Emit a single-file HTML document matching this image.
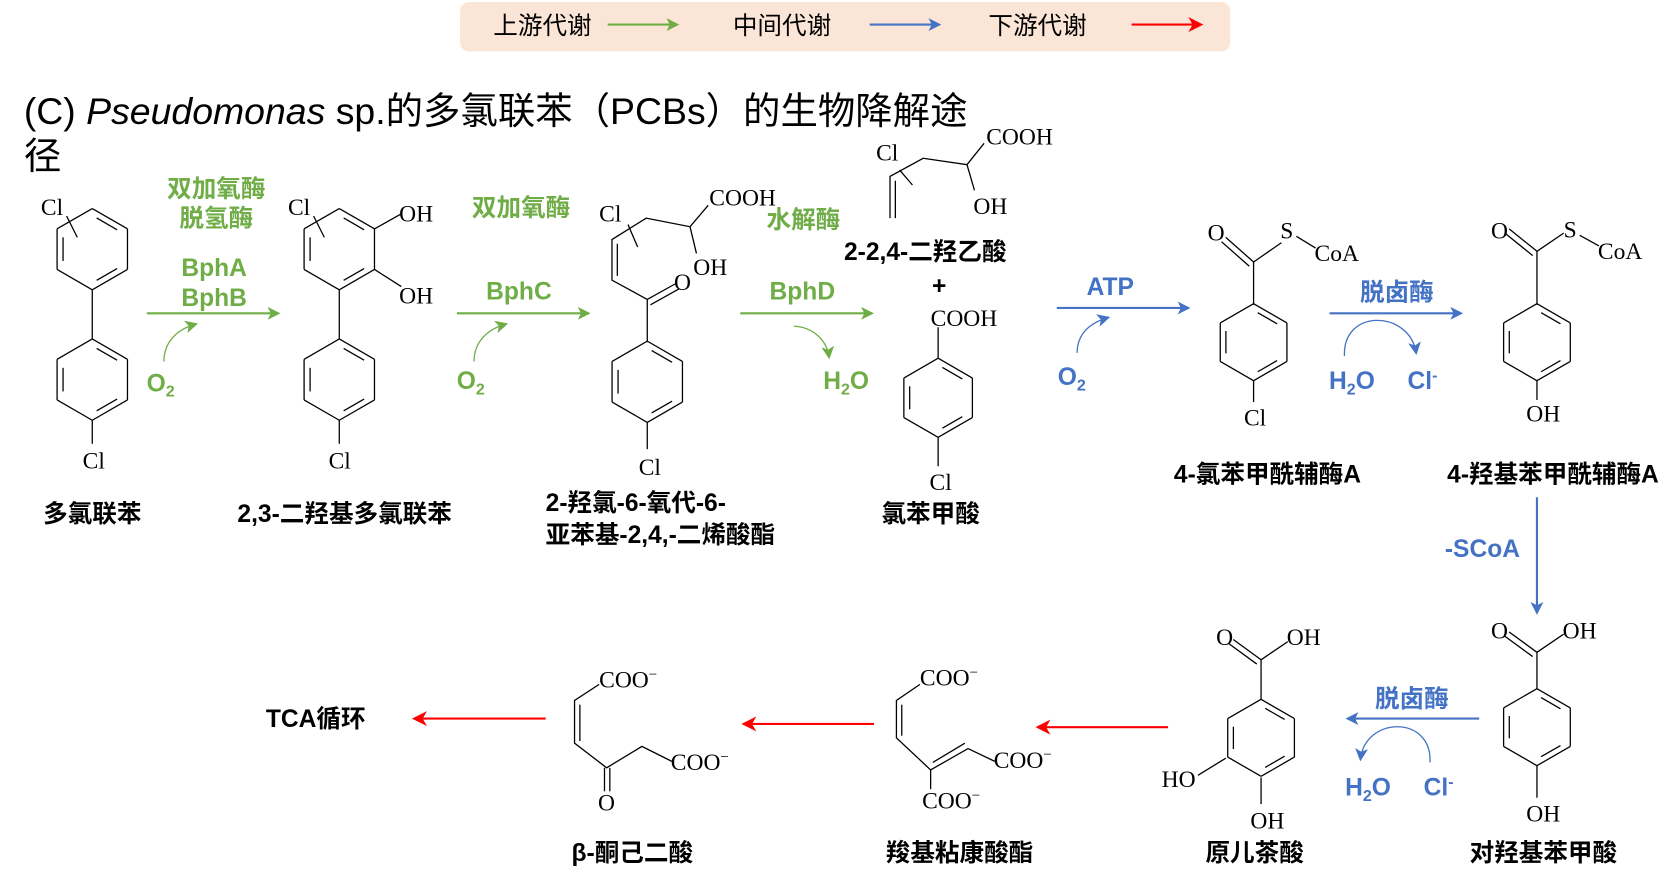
<!DOCTYPE html>
<html><head><meta charset="utf-8"><style>
html,body{margin:0;padding:0;background:#fff;}
svg{display:block;}
.c{font-family:"Liberation Serif","Noto Serif CJK SC",serif;font-size:22px;fill:#000;}
.b{font-family:"Liberation Sans","Noto Sans CJK SC",sans-serif;font-size:23px;font-weight:bold;fill:#000;}
.g{font-family:"Liberation Sans","Noto Sans CJK SC",sans-serif;font-size:23px;font-weight:bold;fill:#70ad47;}
.bl{font-family:"Liberation Sans","Noto Sans CJK SC",sans-serif;font-size:23px;font-weight:bold;fill:#4472c4;}
.lg{font-family:"Liberation Sans","Noto Sans CJK SC",sans-serif;font-size:23px;fill:#000;}
</style></head><body>
<svg id="s" width="1672" height="879" viewBox="0 0 1563 822" xmlns="http://www.w3.org/2000/svg">
<defs>
<marker id="ag" markerWidth="12" markerHeight="12" refX="10" refY="6" orient="auto" markerUnits="userSpaceOnUse"><path d="M0,0 L12,6 L0,12 L3,6z" fill="#70ad47"/></marker>
<marker id="ab" markerWidth="12" markerHeight="12" refX="10" refY="6" orient="auto" markerUnits="userSpaceOnUse"><path d="M0,0 L12,6 L0,12 L3,6z" fill="#4472c4"/></marker>
<marker id="ar" markerWidth="14" markerHeight="14" refX="12" refY="7" orient="auto" markerUnits="userSpaceOnUse"><path d="M0,0 L14,7 L0,14 L4,7z" fill="#ff0000"/></marker>
</defs>
<rect x="430" y="2" width="720" height="46" rx="8" fill="#fbe5d6"/>
<text class="lg" x="507" y="32" text-anchor="middle">上游代谢</text>
<line x1="568" y1="23" x2="633" y2="23" stroke="#70ad47" stroke-width="2" marker-end="url(#ag)"/>
<text class="lg" x="731" y="32" text-anchor="middle">中间代谢</text>
<line x1="813" y1="23" x2="878" y2="23" stroke="#4472c4" stroke-width="2" marker-end="url(#ab)"/>
<text class="lg" x="970" y="32" text-anchor="middle">下游代谢</text>
<line x1="1058" y1="23" x2="1123" y2="23" stroke="#ff0000" stroke-width="2" marker-end="url(#ar)"/>
<text x="22" y="116" style="font-family:'Liberation Sans','Noto Sans CJK SC',sans-serif;font-size:35px;fill:#000">(C) <tspan font-style="italic">Pseudomonas</tspan> sp.的多氯联苯（PCBs）的生物降解途</text>
<text x="22" y="158" style="font-family:'Liberation Sans','Noto Sans CJK SC',sans-serif;font-size:35px;fill:#000">径</text>

<g id="mol" stroke="#000" stroke-width="1.2" fill="none">
<line x1="86" y1="271" x2="86" y2="317"/><line x1="86" y1="393" x2="86" y2="415"/>
<line x1="62" y1="202" x2="72" y2="222"/>
<line x1="317" y1="271" x2="317" y2="317"/><line x1="317" y1="393" x2="317" y2="415"/>
<line x1="293" y1="202" x2="303" y2="222"/>
<line x1="350" y1="214" x2="375" y2="200"/><line x1="350" y1="252" x2="375" y2="268"/>
<line x1="605" y1="280" x2="605" y2="320"/><line x1="605" y1="395" x2="605" y2="420"/>
<polyline points="605,280 572,262 572,224 604,204 645,212 662,192"/>
<line x1="577" y1="258" x2="577" y2="228"/>
<line x1="645" y1="212" x2="651" y2="237"/>
<line x1="605" y1="280" x2="632" y2="265"/><line x1="608" y1="285" x2="635" y2="270"/>
<line x1="587" y1="210" x2="596" y2="231"/>
<polyline points="832,204 832,165 863,148 904,154 920,134"/>
<line x1="837" y1="204" x2="837" y2="169"/>
<line x1="904" y1="154" x2="911" y2="178"/>
<line x1="841" y1="159" x2="853" y2="173"/>
<line x1="877" y1="335" x2="877" y2="306"/><line x1="877" y1="409" x2="877" y2="436"/>
<line x1="1172" y1="285" x2="1172" y2="245"/><line x1="1172" y1="356" x2="1172" y2="376"/>
<line x1="1172" y1="245" x2="1146" y2="222"/><line x1="1168" y1="249" x2="1142" y2="226"/>
<line x1="1172" y1="245" x2="1198" y2="227"/><line x1="1212" y1="221" x2="1230" y2="232"/>
<line x1="1437" y1="285" x2="1437" y2="235"/><line x1="1437" y1="356" x2="1437" y2="374"/>
<line x1="1437" y1="235" x2="1411" y2="214"/><line x1="1433" y1="239" x2="1407" y2="218"/>
<line x1="1437" y1="235" x2="1462" y2="218"/><line x1="1477" y1="220" x2="1495" y2="230"/>
<line x1="1437" y1="644" x2="1437" y2="610"/><line x1="1437" y1="716" x2="1437" y2="746"/>
<line x1="1437" y1="610" x2="1411" y2="591"/><line x1="1433" y1="614" x2="1407" y2="595"/>
<line x1="1437" y1="610" x2="1462" y2="593"/>
<line x1="1179" y1="654" x2="1179" y2="617"/><line x1="1179" y1="727" x2="1179" y2="752"/>
<line x1="1179" y1="617" x2="1153" y2="598"/><line x1="1175" y1="621" x2="1149" y2="602"/>
<line x1="1179" y1="617" x2="1204" y2="600"/>
<line x1="1146" y1="709" x2="1120" y2="725"/>
<polyline points="860,640 838,655 838,690 870,720 905,700 930,712"/>
<line x1="843" y1="659" x2="843" y2="688"/>
<line x1="872" y1="713" x2="902" y2="695"/>
<line x1="870" y1="720" x2="870" y2="738"/>
<polyline points="560,640 537,655 537,695 567,718 600,698 628,712"/>
<line x1="542" y1="659" x2="542" y2="693"/>
<line x1="565" y1="718" x2="565" y2="740"/><line x1="570" y1="718" x2="570" y2="740"/>
</g>

<g class="c">
<text x="38" y="201">Cl</text><text x="77" y="438">Cl</text>
<text x="269" y="201">Cl</text><text x="373" y="207">OH</text><text x="373" y="284">OH</text><text x="307" y="438">Cl</text>
<text x="560" y="207">Cl</text><text x="663" y="192">COOH</text><text x="648" y="257">OH</text><text x="630" y="271">O</text><text x="597" y="444">Cl</text>
<text x="819" y="150">Cl</text><text x="922" y="135">COOH</text><text x="910" y="200">OH</text>
<text x="870" y="305">COOH</text><text x="869" y="458">Cl</text>
<text x="1129" y="225">O</text><text x="1197" y="223">S</text><text x="1229" y="244">CoA</text><text x="1163" y="398">Cl</text>
<text x="1394" y="223">O</text><text x="1462" y="222">S</text><text x="1494" y="242">CoA</text><text x="1427" y="394">OH</text>
<text x="1394" y="597">O</text><text x="1461" y="597">OH</text><text x="1427" y="768">OH</text>
<text x="1137" y="603">O</text><text x="1203" y="603">OH</text><text x="1086" y="736">HO</text><text x="1169" y="775">OH</text>
<text x="860" y="641">COO<tspan font-size="14" dy="-8">−</tspan></text>
<text x="929" y="718">COO<tspan font-size="14" dy="-8">−</tspan></text>
<text x="862" y="756">COO<tspan font-size="14" dy="-8">−</tspan></text>
<text x="560" y="643">COO<tspan font-size="14" dy="-8">−</tspan></text>
<text x="627" y="720">COO<tspan font-size="14" dy="-8">−</tspan></text>
<text x="559" y="758">O</text>
</g>

<g stroke="#70ad47" stroke-width="2" fill="none">
<line x1="137" y1="293" x2="260" y2="293" marker-end="url(#ag)"/>
<line x1="427" y1="293" x2="550" y2="293" marker-end="url(#ag)"/>
<line x1="692" y1="293" x2="815" y2="293" marker-end="url(#ag)"/>
<path d="M153,338 C153,320 165,308 183,303" stroke-width="1.2" marker-end="url(#ag)"/>
<path d="M443,338 C443,320 455,308 473,303" stroke-width="1.2" marker-end="url(#ag)"/>
<path d="M742,305 C760,306 773,318 775,334" stroke-width="1.2" marker-end="url(#ag)"/>
</g>
<g class="g" text-anchor="middle">
<text x="202" y="184">双加氧酶</text><text x="202" y="212">脱氢酶</text>
<text x="200" y="258">BphA</text><text x="200" y="286">BphB</text>
<text x="150" y="366">O<tspan font-size="15" dy="5">2</tspan></text>
<text x="487" y="202">双加氧酶</text><text x="485" y="280">BphC</text>
<text x="440" y="364">O<tspan font-size="15" dy="5">2</tspan></text>
<text x="751" y="213">水解酶</text><text x="750" y="280">BphD</text>
<text x="791" y="364">H<tspan font-size="15" dy="5">2</tspan><tspan dy="-5">O</tspan></text>
</g>
<g stroke="#4472c4" stroke-width="2" fill="none">
<line x1="988" y1="288" x2="1111" y2="288" marker-end="url(#ab)"/>
<line x1="1243" y1="293" x2="1366" y2="293" marker-end="url(#ab)"/>
<line x1="1437" y1="465" x2="1437" y2="573" marker-end="url(#ab)"/>
<line x1="1383" y1="672" x2="1260" y2="672" marker-end="url(#ab)"/>
<path d="M1007,330 C1007,313 1018,302 1036,297" stroke-width="1.2" marker-end="url(#ab)"/>
<path d="M1257,333 C1255,288 1318,290 1324,330" stroke-width="1.2" marker-end="url(#ab)"/>
<path d="M1337,713 C1339,668 1276,670 1272,710" stroke-width="1.2" marker-end="url(#ab)"/>
</g>
<g class="bl" text-anchor="middle">
<text x="1038" y="276">ATP</text>
<text x="1002" y="360">O<tspan font-size="15" dy="5">2</tspan></text>
<text x="1306" y="281">脱卤酶</text>
<text x="1264" y="364">H<tspan font-size="15" dy="5">2</tspan><tspan dy="-5">O</tspan></text>
<text x="1330" y="364">Cl<tspan font-size="15" dy="-8">-</tspan></text>
<text x="1386" y="521">-SCoA</text>
<text x="1320" y="661">脱卤酶</text>
<text x="1279" y="744">H<tspan font-size="15" dy="5">2</tspan><tspan dy="-5">O</tspan></text>
<text x="1345" y="744">Cl<tspan font-size="15" dy="-8">-</tspan></text>
</g>
<g stroke="#ff0000" stroke-width="2">
<line x1="1092" y1="680" x2="970" y2="680" marker-end="url(#ar)"/>
<line x1="817" y1="677" x2="695" y2="677" marker-end="url(#ar)"/>
<line x1="510" y1="672" x2="387" y2="672" marker-end="url(#ar)"/>
</g>
<g class="b" text-anchor="middle">
<text x="295" y="680">TCA循环</text>
<text x="86" y="488">多氯联苯</text>
<text x="322" y="488">2,3-二羟基多氯联苯</text>
<text x="510" y="478" text-anchor="start">2-羟氯-6-氧代-6-</text>
<text x="510" y="508" text-anchor="start">亚苯基-2,4,-二烯酸酯</text>
<text x="865" y="243">2-2,4-二羟乙酸</text>
<text x="878" y="275">+</text>
<text x="870" y="488">氯苯甲酸</text>
<text x="1185" y="451">4-氯苯甲酰辅酶A</text>
<text x="1452" y="451">4-羟基苯甲酰辅酶A</text>
<text x="1443" y="805">对羟基苯甲酸</text>
<text x="1173" y="805">原儿茶酸</text>
<text x="897" y="805">羧基粘康酸酯</text>
<text x="591" y="805">β-酮己二酸</text>
</g>
</svg>
<script>
(function(){
var s=document.getElementById('mol');var NS="http://www.w3.org/2000/svg";
function L(a,b,c,d){var l=document.createElementNS(NS,'line');l.setAttribute('x1',a);l.setAttribute('y1',b);l.setAttribute('x2',c);l.setAttribute('y2',d);s.appendChild(l);}
function ring(cx,cy,r){var v=[];for(var i=0;i<6;i++){var a=(-90+60*i)*Math.PI/180;v.push([cx+r*Math.cos(a),cy+r*Math.sin(a)]);}
for(var i=0;i<6;i++){var p=v[i],q=v[(i+1)%6];L(p[0],p[1],q[0],q[1]);
if(i%2==0){var f=0.83,t=0.15;var p2=[cx+(p[0]-cx)*f,cy+(p[1]-cy)*f],q2=[cx+(q[0]-cx)*f,cy+(q[1]-cy)*f];
L(p2[0]+(q2[0]-p2[0])*t,p2[1]+(q2[1]-p2[1])*t,q2[0]+(p2[0]-q2[0])*t,q2[1]+(p2[1]-q2[1])*t);}}}
ring(86,233,38);ring(86,355,38);ring(317,233,38);ring(317,355,38);ring(605,357,38);
ring(877,372,37);ring(1172,320,36);ring(1437,320,36);ring(1437,680,36);ring(1179,690,36);
})();
</script>
</body></html>
